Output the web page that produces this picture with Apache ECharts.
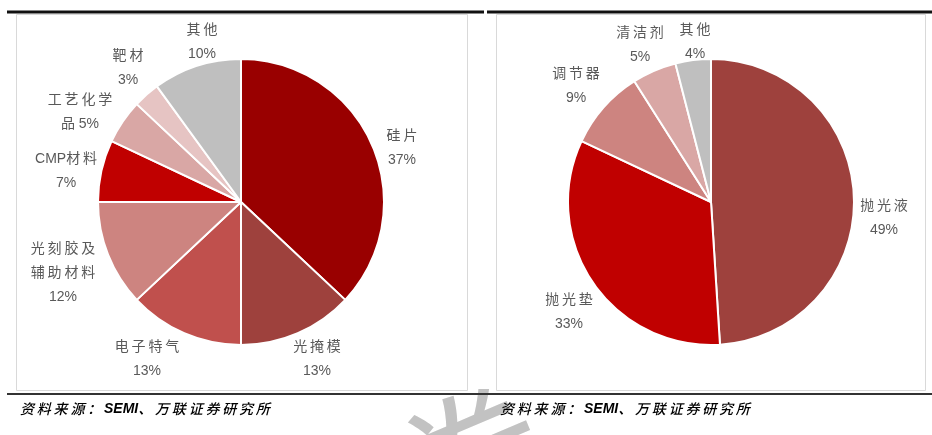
<!DOCTYPE html>
<html>
<head>
<meta charset="utf-8">
<script src="https://cdn.jsdelivr.net/npm/echarts@6/dist/echarts.min.js"></script>
<style>
  html, body { margin: 0; padding: 0; background: #fff; }
  #chart { width: 932px; height: 435px; }
</style>
</head>
<body>
<div id="chart"></div>
<script>
// 左图：半导体材料结构
var leftNames = ['硅片', '光掩模', '电子特气', '光刻胶及辅助材料', 'CMP材料', '工艺化学品', '靶材', '其他']
var leftValues = [37, 13, 13, 12, 7, 5, 3, 10]
// 右图：CMP材料结构
var rightNames = ['抛光液', '抛光垫', '调节器', '清洁剂', '其他']
var rightValues = [49, 33, 9, 5, 4]
var sourceParts = ['资料来源：', 'SEMI', '、万联证券研究所']

var leftColors = ['#990000', '#9e413d', '#c0504d', '#cd8480', '#c00000', '#d9a7a5', '#e6c4c3', '#bfbfbf']
var rightColors = ['#9e413d', '#c00000', '#cd8480', '#d9a7a5', '#bfbfbf']

// 标签中心位置（原图中标签放在饼外，不带引导线）
var labelPos = [
  [[402, 148], [317, 359], [147, 359], [63, 273], [66, 171], [80, 112], [128, 68], [202, 42]],
  [[884, 218], [569, 312], [576, 86], [640, 45], [695, 42]]
]

// 标签换行方式（与原图一致）
var labelLines = {
  '光刻胶及辅助材料': ['光刻胶及', '辅助材料', '{p}%'],
  '工艺化学品': ['工艺化学', '品 {p}%']
}

function spaced (s) {
  // 中文字符之间加细空格，模拟原图的字距
  return s.replace(/([\u4e00-\u9fa5：、])(?=[\u4e00-\u9fa5：、])/g, '$1\u2009')
}

function fmt (params) {
  var lines = labelLines[params.name] || [params.name, '{p}%']
  return lines.map(function (l) {
    return '{c|' + spaced(l.replace('{p}', params.value)) + '}'
  }).join('\n')
}

function pieSeries (names, values, colors, cx, idx) {
  return {
    type: 'pie',
    center: [cx, 202],
    radius: 143,
    startAngle: 90,
    clockwise: true,
    avoidLabelOverlap: false,
    itemStyle: { borderColor: '#fff', borderWidth: 2 },
    label: {
      position: 'outside',
      formatter: fmt,
      rich: {
        c: {
          align: 'center',
          color: '#595959',
          fontSize: 14,
          lineHeight: 24,
          fontFamily: 'Liberation Sans, Noto Sans CJK SC'
        }
      }
    },
    labelLine: { show: false },
    labelLayout: function (params) {
      var p = labelPos[idx][params.dataIndex]
      return { x: p[0], y: p[1], align: 'center', verticalAlign: 'middle', hideOverlap: false, moveOverlap: null }
    },
    emphasis: { disabled: true },
    data: names.map(function (n, i) {
      return { name: n, value: values[i], itemStyle: { color: colors[i] } }
    })
  }
}

var srcStyle = {
  text: '{n|' + spaced(sourceParts[0]) + '\u2009}{b|' + sourceParts[1] + '}{n|' + spaced(sourceParts[2]) + '}',
  fontStyle: 'italic',
  verticalAlign: 'middle',
  rich: {
    n: { fontSize: 14, fontStyle: 'italic', fontWeight: 500, color: '#111', fontFamily: 'Noto Sans CJK SC' },
    b: { fontSize: 14, fontStyle: 'italic', fontWeight: 'bold', color: '#111', fontFamily: 'Liberation Sans' }
  }
}

var option = {
  animation: false,
  graphic: [
    // 水印（只露出框线下方的部分）
    {
      type: 'text', x: 472, y: 462, rotation: 0.4, z: -10,
      style: { text: '券', fontSize: 150, fill: '#c2c2c2', fontFamily: 'Noto Sans CJK SC', align: 'center', verticalAlign: 'middle' }
    },
    { type: 'rect', z: -8, shape: { x: 0, y: 0, width: 932, height: 389 }, style: { fill: '#fff' } },
    { type: 'rect', z: -5, shape: { x: 16.5, y: 14.5, width: 451, height: 376 }, style: { fill: '#fff', stroke: '#d9d9d9', lineWidth: 1 } },
    { type: 'rect', z: -5, shape: { x: 496.5, y: 14.5, width: 429, height: 376 }, style: { fill: '#fff', stroke: '#d9d9d9', lineWidth: 1 } },
    { type: 'line', shape: { x1: 7, y1: 12, x2: 484, y2: 12 }, style: { stroke: '#111', lineWidth: 3 } },
    { type: 'line', shape: { x1: 487, y1: 12, x2: 932, y2: 12 }, style: { stroke: '#111', lineWidth: 3 } },
    { type: 'line', shape: { x1: 7, y1: 394, x2: 932, y2: 394 }, style: { stroke: '#333', lineWidth: 2 } },
    { type: 'text', x: 20, y: 409, style: srcStyle },
    { type: 'text', x: 500, y: 409, style: srcStyle }
  ],
  series: [
    pieSeries(leftNames, leftValues, leftColors, 241, 0),
    pieSeries(rightNames, rightValues, rightColors, 711, 1)
  ]
}

var myChart = echarts.init(document.getElementById('chart'))
myChart.setOption(option)
</script>
</body>
</html>
